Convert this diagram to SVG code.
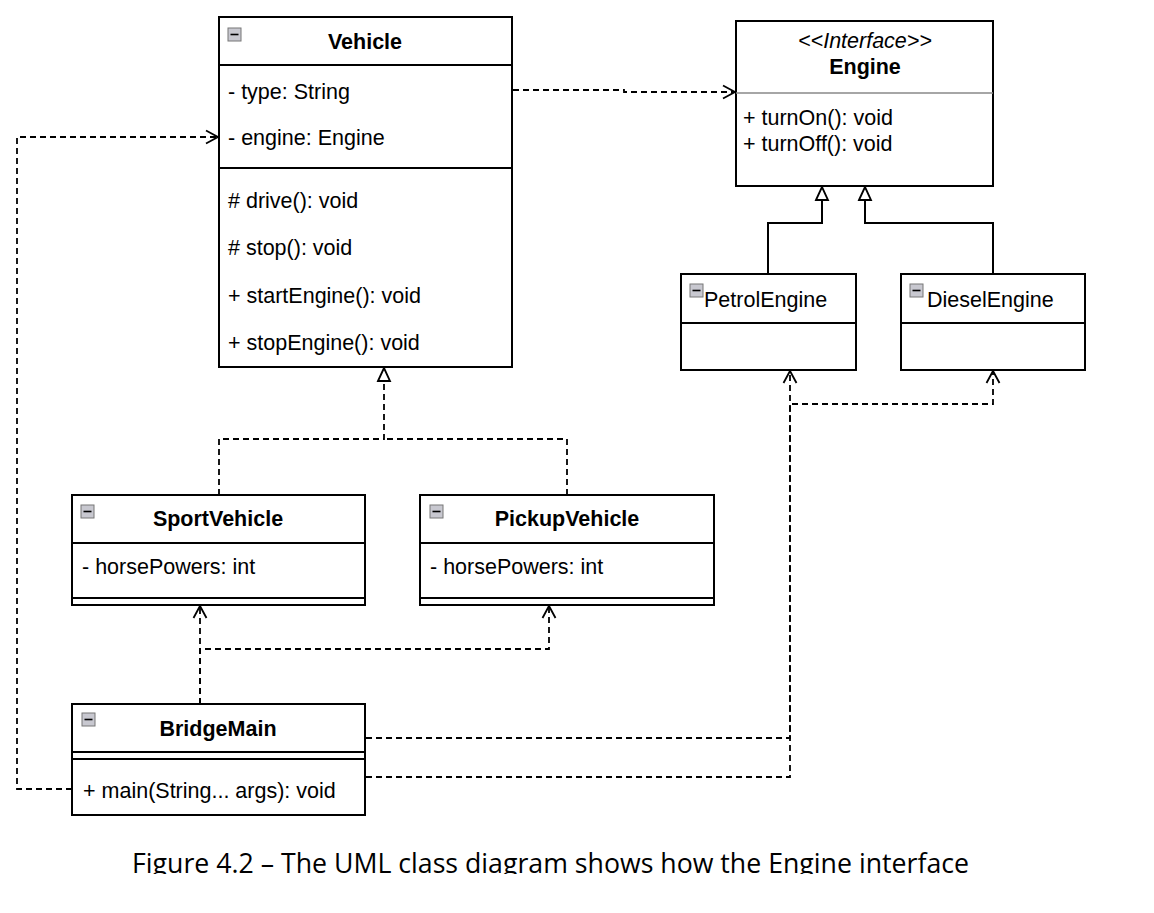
<svg xmlns="http://www.w3.org/2000/svg" width="1154" height="913" viewBox="0 0 1154 913">
<style>
.box{fill:#fff;stroke:#000;stroke-width:2}
.div{stroke:#000;stroke-width:2}
.t{font-family:"Liberation Sans",Arial,Helvetica,sans-serif;font-size:21.5px;fill:#000}
.b{font-weight:bold}
.c{text-anchor:middle}
.i{font-style:italic}
.icon{fill:#c8c8d0;stroke:#777;stroke-width:1}
.iconm{stroke:#000;stroke-width:1.6}
.dash{fill:none;stroke:#000;stroke-width:1.8;stroke-dasharray:6 4}
.solid{fill:none;stroke:#000;stroke-width:2}
.cap{font-family:"Open Sans","Noto Sans",sans-serif;font-size:28px;fill:#000}
</style>
<defs>
<marker id="open" markerUnits="userSpaceOnUse" markerWidth="16" markerHeight="16" refX="13" refY="7" orient="auto" overflow="visible">
<path d="M1,0.5 L13,7 L1,13.5" fill="none" stroke="#000" stroke-width="1.8" stroke-dasharray="none"/>
</marker>
<marker id="tri" markerUnits="userSpaceOnUse" markerWidth="16" markerHeight="16" refX="14" refY="7" orient="auto" overflow="visible">
<path d="M1,1 L14,7 L1,13 Z" fill="#fff" stroke="#000" stroke-width="1.8" stroke-dasharray="none"/>
</marker>
<clipPath id="capclip"><rect x="0" y="830" width="1154" height="44"/></clipPath>
</defs>
<rect width="1154" height="913" fill="#fff"/>

<g id="connectors">
<path class="dash" d="M513,90 H624 V92 H735" marker-end="url(#open)"/>
<path class="dash" d="M72,789 H17 V137 H218" marker-end="url(#open)"/>
<path class="dash" d="M219,495 V439 H384 V368" marker-end="url(#tri)"/>
<path class="dash" d="M567,495 V439 H384"/>
<path class="solid" d="M768,274 V223 H822 V187" marker-end="url(#tri)"/>
<path class="solid" d="M993,274 V223 H865 V187" marker-end="url(#tri)"/>
<path class="dash" d="M200,704 V606" marker-end="url(#open)"/>
<path class="dash" d="M200,704 V649 H549 V606" marker-end="url(#open)"/>
<path class="dash" d="M366,777 H790 V371" marker-end="url(#open)"/>
<path class="dash" d="M366,738 H790 V404 H993 V371" marker-end="url(#open)"/>
</g>

<g id="Vehicle">
<rect class="box" x="219" y="17" width="293" height="350"/>
<line class="div" x1="219" y1="65" x2="512" y2="65"/>
<line class="div" x1="219" y1="168" x2="512" y2="168"/>
<rect class="icon" x="228" y="28" width="13" height="13"/>
<line class="iconm" x1="230.5" y1="34.5" x2="238.5" y2="34.5"/>
<text class="t b c" x="365" y="49">Vehicle</text>
<text class="t" x="228" y="99">- type: String</text>
<text class="t" x="228" y="145">- engine: Engine</text>
<text class="t" x="228" y="208"># drive(): void</text>
<text class="t" x="228" y="255"># stop(): void</text>
<text class="t" x="228" y="303">+ startEngine(): void</text>
<text class="t" x="228" y="350">+ stopEngine(): void</text>
</g>

<g id="Engine">
<rect class="box" x="736" y="21" width="257" height="165"/>
<line x1="736" y1="93" x2="993" y2="93" stroke="#888" stroke-width="1.5"/>
<text class="t i c" x="865" y="48">&lt;&lt;Interface&gt;&gt;</text>
<text class="t b c" x="865" y="74">Engine</text>
<text class="t" x="743" y="125">+ turnOn(): void</text>
<text class="t" x="743" y="151">+ turnOff(): void</text>
</g>

<g id="PetrolEngine">
<rect class="box" x="681" y="274" width="175" height="96"/>
<line class="div" x1="681" y1="323" x2="856" y2="323"/>
<rect class="icon" x="690" y="284" width="13" height="13"/>
<line class="iconm" x1="692.5" y1="290.5" x2="700.5" y2="290.5"/>
<text class="t" x="704" y="307">PetrolEngine</text>
</g>

<g id="DieselEngine">
<rect class="box" x="901" y="274" width="184" height="96"/>
<line class="div" x1="901" y1="323" x2="1085" y2="323"/>
<rect class="icon" x="910" y="284" width="13" height="13"/>
<line class="iconm" x1="912.5" y1="290.5" x2="920.5" y2="290.5"/>
<text class="t" x="927" y="307">DieselEngine</text>
</g>

<g id="SportVehicle">
<rect class="box" x="72" y="495" width="293" height="110"/>
<line class="div" x1="72" y1="543" x2="365" y2="543"/>
<line class="div" x1="72" y1="598" x2="365" y2="598"/>
<rect class="icon" x="81" y="505" width="13" height="13"/>
<line class="iconm" x1="83.5" y1="511.5" x2="91.5" y2="511.5"/>
<text class="t b c" x="218" y="526">SportVehicle</text>
<text class="t" x="82" y="574">- horsePowers: int</text>
</g>

<g id="PickupVehicle">
<rect class="box" x="420" y="495" width="294" height="110"/>
<line class="div" x1="420" y1="543" x2="714" y2="543"/>
<line class="div" x1="420" y1="598" x2="714" y2="598"/>
<rect class="icon" x="430" y="505" width="13" height="13"/>
<line class="iconm" x1="432.5" y1="511.5" x2="440.5" y2="511.5"/>
<text class="t b c" x="567" y="526">PickupVehicle</text>
<text class="t" x="430" y="574">- horsePowers: int</text>
</g>

<g id="BridgeMain">
<rect class="box" x="72" y="704" width="293" height="111"/>
<line class="div" x1="72" y1="752" x2="365" y2="752"/>
<line class="div" x1="72" y1="759" x2="365" y2="759"/>
<rect class="icon" x="82" y="713" width="13" height="13"/>
<line class="iconm" x1="84.5" y1="719.5" x2="92.5" y2="719.5"/>
<text class="t b c" x="218" y="736">BridgeMain</text>
<text class="t" x="83" y="798">+ main(String... args): void</text>
</g>

<g id="caption" clip-path="url(#capclip)">
<text class="cap" x="132" y="873" textLength="837" lengthAdjust="spacingAndGlyphs">Figure 4.2 – The UML class diagram shows how the Engine interface</text>
</g>
</svg>
